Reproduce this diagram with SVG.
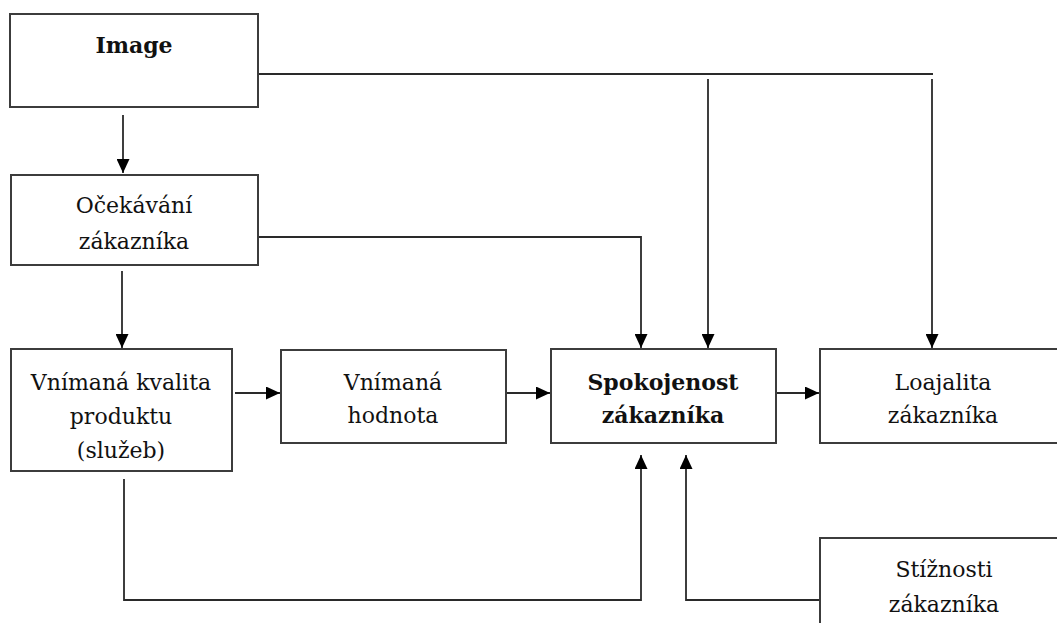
<svg xmlns="http://www.w3.org/2000/svg" width="1057" height="623" viewBox="0 0 1057 623">
<style>
.box{fill:#fff;stroke:#3c3c3c;stroke-width:2}
.t{font-family:"DejaVu Serif","Liberation Serif",serif;font-size:22px;fill:#111;text-anchor:middle}
.b{font-weight:bold}
.c{fill:none;stroke:#2a2a2a;stroke-width:1.8}
</style>
<defs>
<marker id="ah" viewBox="0 0 14 13" refX="14" refY="6.5" markerWidth="14" markerHeight="13" markerUnits="userSpaceOnUse" orient="auto">
<path d="M0,0 L14,6.5 L0,13 z" fill="#000"/>
</marker>
</defs>
<rect width="1057" height="623" fill="#fff"/>
<g id="connectors">
<path class="c" d="M258,74 H933"/>
<path class="c" d="M123,115 V173" marker-end="url(#ah)"/>
<path class="c" d="M122,271 V348" marker-end="url(#ah)"/>
<path class="c" d="M258,237 H641 V348" marker-end="url(#ah)"/>
<path class="c" d="M708,79 V348" marker-end="url(#ah)"/>
<path class="c" d="M932,79 V348" marker-end="url(#ah)"/>
<path class="c" d="M235,393 H280" marker-end="url(#ah)"/>
<path class="c" d="M507,393 H550" marker-end="url(#ah)"/>
<path class="c" d="M776,393 H819" marker-end="url(#ah)"/>
<path class="c" d="M124,479 V600 H641 V455" marker-end="url(#ah)"/>
<path class="c" d="M820,600 H686 V455" marker-end="url(#ah)"/>
</g>
<g id="image">
<rect class="box" x="10" y="14" width="248" height="93"/>
<text class="t b" x="134" y="53">Image</text>
</g>
<g id="ocekavani">
<rect class="box" x="11" y="175" width="247" height="90"/>
<text class="t" x="134" y="213">Očekávání</text>
<text class="t" x="134" y="249">zákazníka</text>
</g>
<g id="kvalita">
<rect class="box" x="11" y="349" width="221" height="122"/>
<text class="t" x="121" y="390">Vnímaná kvalita</text>
<text class="t" x="121" y="424">produktu</text>
<text class="t" x="121" y="458">(služeb)</text>
</g>
<g id="hodnota">
<rect class="box" x="281" y="350" width="225" height="93"/>
<text class="t" x="393" y="390">Vnímaná</text>
<text class="t" x="393" y="423">hodnota</text>
</g>
<g id="spokojenost">
<rect class="box" x="551" y="349" width="225" height="94"/>
<text class="t b" x="663" y="390">Spokojenost</text>
<text class="t b" x="663" y="423">zákazníka</text>
</g>
<g id="loajalita">
<rect class="box" x="820" y="349" width="246" height="94"/>
<text class="t" x="943" y="390">Loajalita</text>
<text class="t" x="943" y="423">zákazníka</text>
</g>
<g id="stiznosti">
<rect class="box" x="820" y="538" width="246" height="100"/>
<text class="t" x="944" y="577">Stížnosti</text>
<text class="t" x="944" y="612">zákazníka</text>
</g>
</svg>
